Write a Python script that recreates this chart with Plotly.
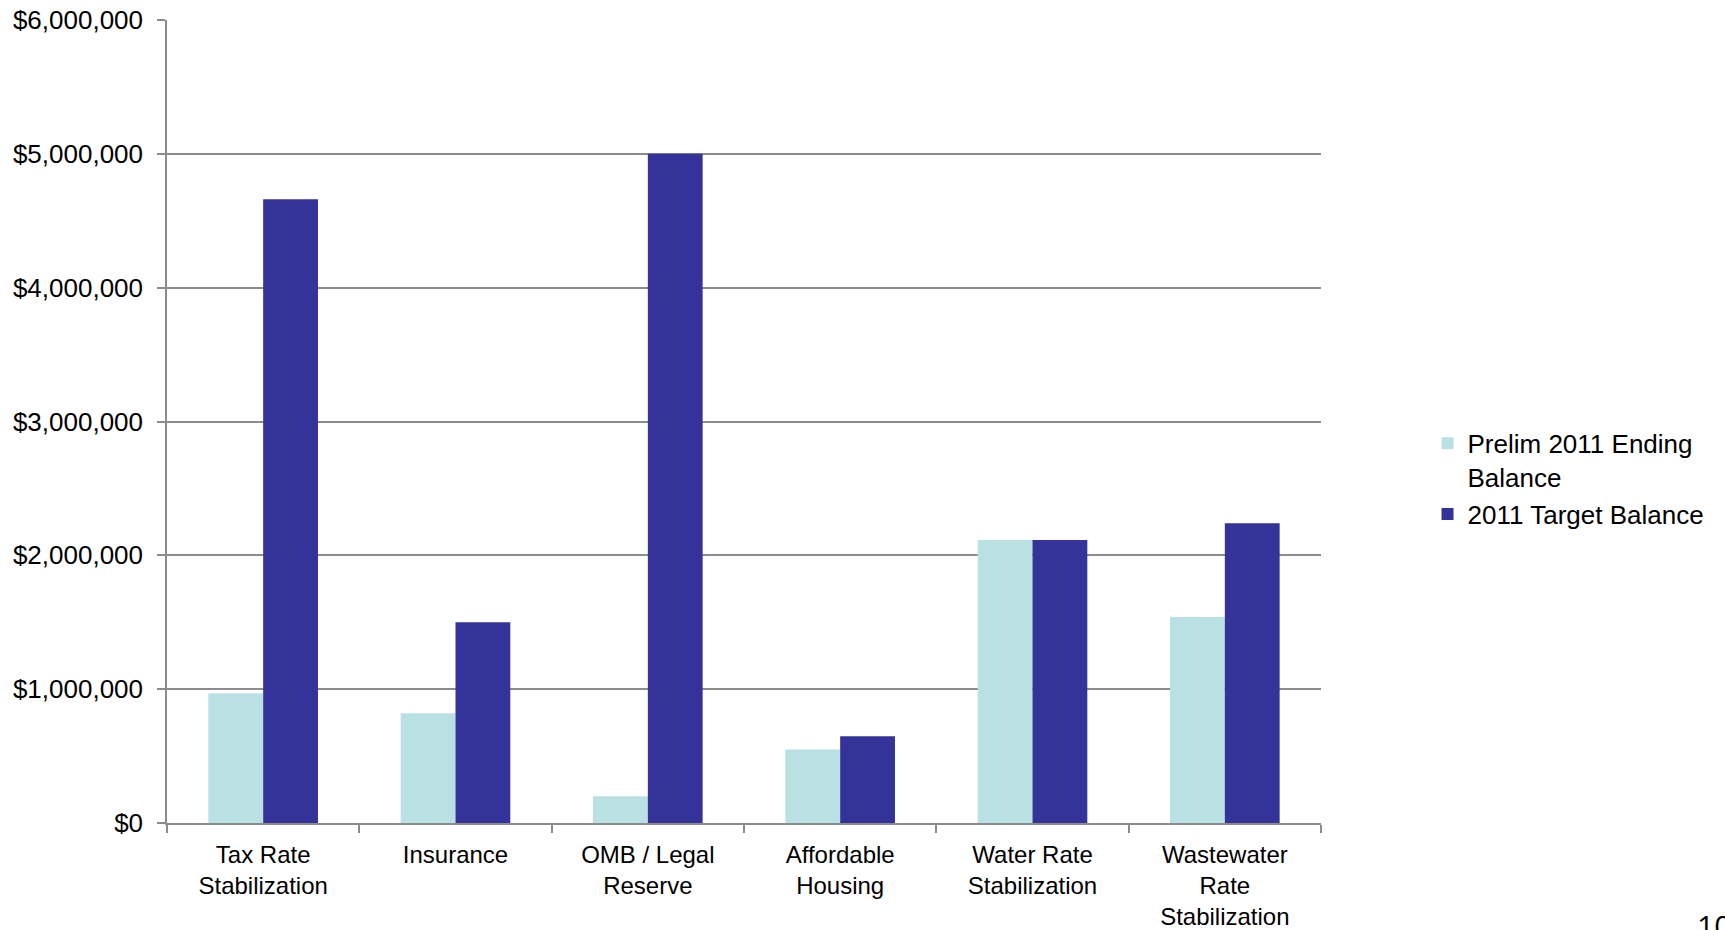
import plotly.graph_objects as go

categories = ["Tax Rate<br>Stabilization", "Insurance", "OMB / Legal<br>Reserve",
              "Affordable<br>Housing", "Water Rate<br>Stabilization",
              "Wastewater<br>Rate<br>Stabilization"]
prelim_2011_ending = [970000, 820000, 200000, 550000, 2115000, 1540000]
target_2011 = [4660000, 1500000, 5000000, 648000, 2115000, 2240000]
series_names = ["Prelim 2011 Ending<br>Balance", "2011 Target Balance"]
y_ticks = [0, 1000000, 2000000, 3000000, 4000000, 5000000, 6000000]
y_tick_labels = ["$0", "$1,000,000", "$2,000,000", "$3,000,000",
                 "$4,000,000", "$5,000,000", "$6,000,000"]

LIGHT = "#B9E0E3"
DARK = "#343399"
GRID = "#8C8C8C"
FONT = "Liberation Sans, Arial, sans-serif"

fig = go.Figure()
fig.add_trace(go.Bar(x=categories, y=prelim_2011_ending, name=series_names[0],
                     legendgroup="a",
                     marker=dict(color=LIGHT, line=dict(width=0))))
fig.add_trace(go.Bar(x=categories, y=target_2011, name=series_names[1],
                     legendgroup="b",
                     marker=dict(color=DARK, line=dict(width=0))))

fig.update_layout(
    width=1725, height=930,
    margin=dict(l=167, r=404, t=20, b=107, autoexpand=False),
    paper_bgcolor="white", plot_bgcolor="white",
    barmode="group", bargap=0.43, bargroupgap=0,
    font=dict(family=FONT, size=24, color="black"),
    legend=dict(x=1.0923, y=0.502, xanchor="left", yanchor="top",
                valign="top", font=dict(size=26, color="black"),
                bgcolor="rgba(0,0,0,0)", tracegroupgap=12,
                traceorder="normal"),
    xaxis=dict(showline=True, linecolor=GRID, linewidth=1.5,
               ticks="outside", tickson="boundaries", ticklen=8,
               tickcolor=GRID, tickwidth=1.5, showgrid=False,
               automargin=False, ticklabelstandoff=9,
               tickfont=dict(size=24, color="black")),
    yaxis=dict(range=[0, 6000000], tickvals=y_ticks, ticktext=y_tick_labels,
               showline=True, linecolor=GRID, linewidth=1.5,
               ticks="outside", ticklen=8, tickcolor=GRID, tickwidth=1.5,
               showgrid=True, gridcolor=GRID, gridwidth=1.5,
               zeroline=False, ticklabelstandoff=9, automargin=False,
               tickfont=dict(size=26, color="black")),
    annotations=[dict(text="10", xref="paper", yref="paper",
                      x=1.3241, y=-0.10, xanchor="left", yanchor="top",
                      showarrow=False,
                      font=dict(family="Open Sans, sans-serif", size=30,
                                color="black"))],
)

fig.write_html("out.html")
